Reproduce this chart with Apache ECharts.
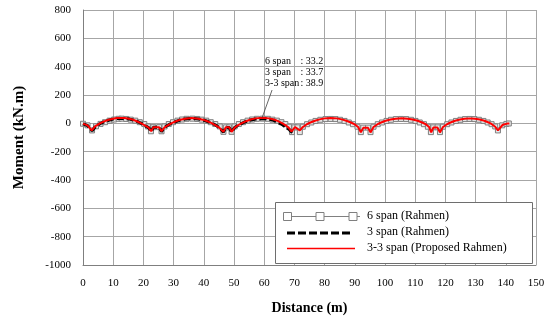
<!DOCTYPE html>
<html>
<head>
<meta charset="utf-8">
<script src="https://cdn.jsdelivr.net/npm/echarts@6/dist/echarts.min.js"></script>
<style>
  html, body { margin: 0; padding: 0; background: #fff; }
  #chart { width: 552px; height: 320px; }
</style>
</head>
<body>
<div id="chart"></div>
<script>
// Bending moment along the frame length for three frame layouts.

// 6 span (Rahmen)
const sixSpanDist = [
  0, 1.5, 3.0,
  4.3, 5.8, 7.3, 8.8, 10.3, 11.8, 12.8, 14.3, 15.8, 17.3, 18.8, 20.3, 21.5, 22.5,
  23.3, 25.2, 26.0,
  27.0, 28.4, 29.8, 31.3, 32.8, 34.3, 36.2, 37.8, 39.3, 40.8, 42.3, 43.8, 45.3, 46.5,
  47.3, 48.4, 49.2,
  50.2, 51.6, 53.0, 54.5, 56.0, 57.6, 59.5, 61.2, 62.7, 64.2, 65.7, 67.0, 68.2, 69.2,
  70.0, 71.0, 71.8,
  72.8, 74.2, 75.6, 77.0, 78.6, 80.3, 82.0, 83.6, 85.1, 86.6, 88.0, 89.4, 90.9, 92.0,
  92.8, 94.4, 95.2,
  96.2, 97.6, 99.0, 100.5, 102.0, 103.6, 105.3, 107.0, 108.6, 110.1, 111.5, 112.9, 114.2, 115.2,
  116.0, 117.4, 118.2,
  119.2, 120.6, 122.0, 123.5, 125.0, 126.5, 128.0, 129.6, 131.1, 132.6, 134.0, 135.3, 136.5, 137.4,
  138.8, 140.2, 141.0
];
const sixSpanMoment = [
  -3, -14, -50,
  -21, -4, 8, 19, 27, 32, 33, 31, 26, 19, 8, -5, -22, -56,
  -27, -27, -56,
  -22, -5, 8, 19, 27, 32, 33, 31, 26, 19, 8, -5, -22, -60,
  -28, -28, -60,
  -22, -5, 8, 19, 27, 32, 33.2, 32, 26, 19, 8, -5, -24, -62,
  -28, -28, -62,
  -24, -6, 6, 17, 25, 30, 31, 30, 25, 17, 6, -6, -24, -62,
  -30, -30, -62,
  -24, -6, 6, 17, 25, 30, 31, 30, 25, 17, 6, -6, -24, -62,
  -28, -28, -62,
  -24, -6, 6, 17, 25, 30, 31, 30, 25, 17, 6, -6, -22, -50,
  -14, -4, -1
];

// 3 span (Rahmen)
const threeSpanDist = [
  0, 1.5, 3.0,
  4.1, 5.6, 7.0, 8.5, 10.0, 11.3, 12.6, 14.0, 15.4, 16.8, 18.2, 19.5, 20.7, 21.8, 22.6,
  23.3, 25.2, 26.0,
  27.0, 28.2, 29.4, 30.8, 32.3, 33.8, 36.1, 38.3, 39.8, 41.3, 42.7, 43.9, 45.0, 46.5,
  47.3, 48.4, 49.2,
  50.2, 51.4, 52.6, 54.0, 55.5, 57.2, 59.3, 61.2, 62.7, 64.0, 65.2, 66.3, 67.4, 68.4, 69.3
];
const threeSpanMoment = [
  -3, -16, -52,
  -24, -3, 11, 22, 30, 34, 35, 34, 30, 22, 11, -2, -18, -32, -58,
  -28, -28, -58,
  -28, -12, 1, 13, 24, 31, 34, 31, 24, 13, 1, -12, -28, -62,
  -29, -29, -62,
  -30, -13, 0, 13, 24, 31, 33.7, 31, 24, 13, 0, -14, -30, -46, -66
];

// 3-3 span (Proposed Rahmen)
const proposedDist = [
  0, 1.5, 2.9,
  4.0, 5.6, 7.0, 8.5, 10.0, 11.2, 12.4, 13.8, 15.2, 16.6, 18.0, 19.3, 20.6, 21.7, 22.6,
  23.3, 25.2, 26.0,
  27.0, 28.2, 29.4, 30.8, 32.3, 33.8, 36.0, 38.2, 39.7, 41.2, 42.6, 43.8, 45.0, 46.5,
  47.3, 48.4, 49.2,
  50.2, 51.4, 52.6, 54.0, 55.5, 57.2, 59.5, 61.6, 63.2, 64.6, 65.9, 67.0, 68.1, 69.0,
  70.2, 71.8,
  72.8, 74.0, 75.3, 76.8, 78.3, 80.0, 82.0, 84.0, 85.7, 87.2, 88.7, 90.0, 91.1, 92.0,
  92.8, 94.4, 95.2,
  96.2, 97.4, 98.7, 100.2, 101.8, 103.5, 105.5, 107.5, 109.2, 110.8, 112.3, 113.6, 114.6, 115.3,
  116.0, 117.4, 118.2,
  119.2, 120.4, 121.7, 123.2, 124.8, 126.3, 128.0, 129.8, 131.4, 132.9, 134.3, 135.5, 136.5, 137.4,
  139.0, 140.5, 141.2
];
const proposedMoment = [
  -2, -14, -50,
  -22, 0, 14, 25, 33, 37, 38, 37, 33, 25, 13, 0, -16, -30, -56,
  -27, -27, -56,
  -28, -12, 2, 15, 26, 33, 37, 33, 26, 15, 2, -12, -28, -60,
  -28, -28, -60,
  -30, -13, 1, 15, 27, 35, 38.9, 35, 27, 16, 2, -12, -30, -58,
  -26, -50,
  -26, -8, 6, 18, 28, 35, 38, 35, 28, 18, 6, -8, -26, -64,
  -32, -32, -64,
  -26, -8, 6, 18, 27, 33, 36, 33, 27, 18, 6, -8, -26, -64,
  -30, -30, -64,
  -26, -8, 6, 18, 27, 32, 35, 32, 27, 18, 6, -8, -24, -50,
  -10, -2, -1
];

// Axis ranges
const distanceRange = [0, 150, 10];
const momentRange = [-1000, 800, 200];

// Series names and peak-value note
const seriesNames = ['6 span (Rahmen)', '3 span (Rahmen)', '3-3 span (Proposed Rahmen)'];
const noteNames = ['6 span', '3 span', '3-3 span'];
const noteValues = ['33.2', '33.7', '38.9'];
const notePeak = [59.3, 39];

const zip = (xs, ys) => xs.map((x, i) => [x, ys[i]]);

const SERIF = '"Liberation Serif", "DejaVu Serif", serif';
const chart = echarts.init(document.getElementById('chart'), null, { renderer: 'canvas' });

const option = {
  animation: false,
  backgroundColor: '#ffffff',
  grid: { left: 83, right: 16, top: 10, bottom: 55 },
  xAxis: {
    type: 'value',
    min: distanceRange[0], max: distanceRange[1], interval: distanceRange[2],
    name: 'Distance (m)',
    nameLocation: 'middle',
    nameGap: 36,
    nameTextStyle: { fontFamily: SERIF, fontWeight: 'bold', fontSize: 14, color: '#000' },
    axisLine: { show: true, onZero: false, lineStyle: { color: '#7f7f7f', width: 1 } },
    axisTick: { show: false },
    axisLabel: { fontFamily: SERIF, fontSize: 11, color: '#000', margin: 13 },
    splitLine: { show: true, lineStyle: { color: '#a6a6a6', width: 1 } }
  },
  yAxis: {
    type: 'value',
    min: momentRange[0], max: momentRange[1], interval: momentRange[2],
    name: 'Moment (kN.m)',
    nameLocation: 'middle',
    nameGap: 56,
    nameTextStyle: { fontFamily: SERIF, fontWeight: 'bold', fontSize: 15, color: '#000' },
    axisLine: { show: true, lineStyle: { color: '#7f7f7f', width: 1 } },
    axisTick: { show: false },
    axisLabel: {
      fontFamily: SERIF, fontSize: 11, color: '#000', margin: 12,
      formatter: v => String(v)
    },
    splitLine: { show: true, lineStyle: { color: '#a6a6a6', width: 1 } }
  },
  series: [
    {
      name: seriesNames[0],
      type: 'line',
      data: zip(sixSpanDist, sixSpanMoment),
      symbol: 'rect',
      symbolSize: 5,
      showAllSymbol: true,
      lineStyle: { color: '#808080', width: 1 },
      itemStyle: { color: '#e6e6e6', borderColor: '#7f7f7f', borderWidth: 1 },
      z: 2
    },
    {
      name: seriesNames[1],
      type: 'line',
      data: zip(threeSpanDist, threeSpanMoment),
      symbol: 'none',
      lineStyle: { color: '#000', width: 3, type: [7, 3] },
      z: 3
    },
    {
      name: seriesNames[2],
      type: 'line',
      data: zip(proposedDist, proposedMoment),
      symbol: 'none',
      lineStyle: { color: '#ff0000', width: 2 },
      z: 4,
      markLine: {
        silent: true,
        symbol: 'none',
        label: { show: false },
        lineStyle: { color: '#404040', width: 0.8, type: 'solid' },
        data: [[{ coord: notePeak }, { coord: [62.6, 235] }]]
      }
    }
  ]
};
chart.setOption(option);

// Peak-value note and legend box, placed from axis coordinates
const at = (x, y) => chart.convertToPixel({ gridIndex: 0 }, [x, y]);
const noteLeft = at(60.3, 0)[0];
const noteColon = at(72.0, 0)[0];
const noteRows = [430, 352, 276].map(v => at(0, v)[1]);

const graphics = [];
noteNames.forEach((n, i) => {
  graphics.push({
    type: 'text', left: noteLeft, top: noteRows[i] - 6, z: 10,
    style: { text: n, font: '10px ' + SERIF, fill: '#000' }
  });
  graphics.push({
    type: 'text', left: noteColon, top: noteRows[i] - 6, z: 10,
    style: { text: ': ' + noteValues[i], font: '10px ' + SERIF, fill: '#000' }
  });
});

// Legend box
const box = { x: 275, y: 202, w: 257, h: 61 };
graphics.push({
  type: 'rect', z: 20,
  shape: { x: box.x + 0.5, y: box.y + 0.5, width: box.w, height: box.h },
  style: { fill: '#fff', stroke: '#6e6e6e', lineWidth: 1 }
});
const rowY = [216.5, 233, 248.5];
const textX = 367;
// row 1: line with square markers
graphics.push({
  type: 'line', z: 21,
  shape: { x1: 283, y1: rowY[0], x2: 360, y2: rowY[0] },
  style: { stroke: '#808080', lineWidth: 1 }
});
[287.5, 320, 353].forEach(cx => {
  graphics.push({
    type: 'rect', z: 22,
    shape: { x: cx - 4, y: rowY[0] - 4, width: 8, height: 8 },
    style: { fill: '#fff', stroke: '#7f7f7f', lineWidth: 1 }
  });
});
// row 2: dashed black
graphics.push({
  type: 'line', z: 21,
  shape: { x1: 287, y1: rowY[1], x2: 352, y2: rowY[1] },
  style: { stroke: '#000', lineWidth: 3, lineDash: [8, 3] }
});
// row 3: red
graphics.push({
  type: 'line', z: 21,
  shape: { x1: 287, y1: rowY[2], x2: 355, y2: rowY[2] },
  style: { stroke: '#ff0000', lineWidth: 1.5 }
});
seriesNames.forEach((n, i) => {
  graphics.push({
    type: 'text', left: textX, top: rowY[i] - 7, z: 22,
    style: { text: n, font: '12px ' + SERIF, fill: '#000' }
  });
});

chart.setOption({ graphic: graphics });
</script>
</body>
</html>
